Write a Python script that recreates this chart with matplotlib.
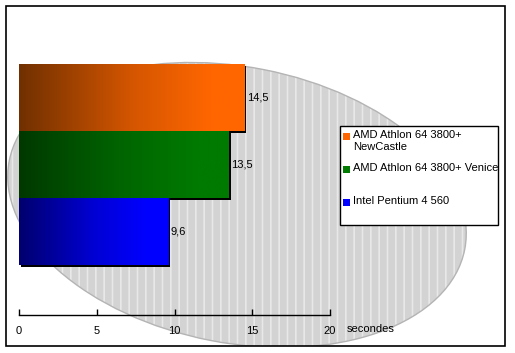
import numpy as np
import matplotlib.pyplot as plt
from matplotlib.patches import Ellipse, Rectangle
from matplotlib.colors import LinearSegmentedColormap, to_rgb

plt.rcParams['font.family'] = ['Liberation Sans', 'DejaVu Sans']
plt.rcParams['hatch.linewidth'] = 1.2

# data (bottom to top)
processors = ["Intel Pentium 4 560", "AMD Athlon 64 3800+ Venice", "AMD Athlon 64 3800+\nNewCastle"]
seconds = [9.6, 13.5, 14.5]
value_labels = ["9,6", "13,5", "14,5"]
dark_colors = ["#00006e", "#003800", "#703000"]
bright_colors = ["#0000ff", "#007a00", "#ff6600"]
ticks = [0, 5, 10, 15, 20]

W, H = 515, 353
fig = plt.figure(figsize=(W / 100, H / 100), dpi=100)

# background layer in pixel coordinates: frame + wafer ellipse
bg = fig.add_axes([0, 0, 1, 1])
bg.set_xlim(0, W)
bg.set_ylim(H, 0)
bg.axis('off')
clip = Rectangle((6, 6), 499, 340, transform=bg.transData)
wafer = Ellipse((237, 205), 464, 276, angle=11, facecolor='#d3d3d3',
                edgecolor='#e8e8e8', hatch='||', lw=0, zorder=1)
bg.add_patch(wafer)
wafer.set_clip_path(clip)
rim = Ellipse((237, 205), 464, 276, angle=11, facecolor='none',
              edgecolor='#b4b4b4', lw=1.0, zorder=2)
bg.add_patch(rim)
rim.set_clip_path(clip)
bg.add_patch(Rectangle((6, 6), 499, 340, facecolor='none', edgecolor='black', lw=1.2, zorder=5))

# legend box
bg.add_patch(Rectangle((340, 126), 158, 99, facecolor='white', edgecolor='black', lw=1.0, zorder=6))
legend_y = [136, 169, 202]
for name, col, ly in zip(processors[::-1], bright_colors[::-1], legend_y):
    bg.add_patch(Rectangle((343, ly - 3.5), 7, 7, facecolor=col, edgecolor='none', zorder=7))
    bg.text(353, ly - 6, name, fontsize=8, va='top', ha='left', zorder=7, linespacing=1.25)

# bar chart
ax = fig.add_axes([19 / W, (H - 315) / H, 311 / W, 251 / H])
ax.patch.set_alpha(0)

grad = np.linspace(0, 1, 256).reshape(1, -1)
for i, (v, lab, c0, c1) in enumerate(zip(seconds, value_labels, dark_colors, bright_colors)):
    # drop shadow
    ax.add_patch(Rectangle((0.13, i - 0.5 - 0.035), v, 1.0, facecolor='black', edgecolor='none', zorder=2))
    mid = tuple(0.3 * a + 0.7 * b for a, b in zip(to_rgb(c0), to_rgb(c1)))
    cmap = LinearSegmentedColormap.from_list(f'g{i}', [(0, c0), (0.5, mid), (0.85, c1), (1, c1)], N=256)
    ax.imshow(grad, extent=(0, v, i - 0.5, i + 0.5), aspect='auto', cmap=cmap, zorder=3)
    ax.text(v + 0.15, i, lab, fontsize=8, va='center', ha='left', zorder=4)

ax.set_xlim(0, 20)
ax.set_ylim(-0.5 - 50 / 67, 2.5)
for s in ['left', 'top', 'right']:
    ax.spines[s].set_visible(False)
ax.spines['bottom'].set_linewidth(1.0)
ax.set_yticks([])
ax.set_xticks(ticks)
ax.set_xticklabels([str(t) for t in ticks])
ax.tick_params(axis='x', direction='in', length=4, width=1, pad=8, labelsize=8)
ax.text(21.1, -0.5 - 50 / 67 - 0.13, "secondes", fontsize=8, ha='left', va='top')

fig.savefig('out.png', dpi=100)
